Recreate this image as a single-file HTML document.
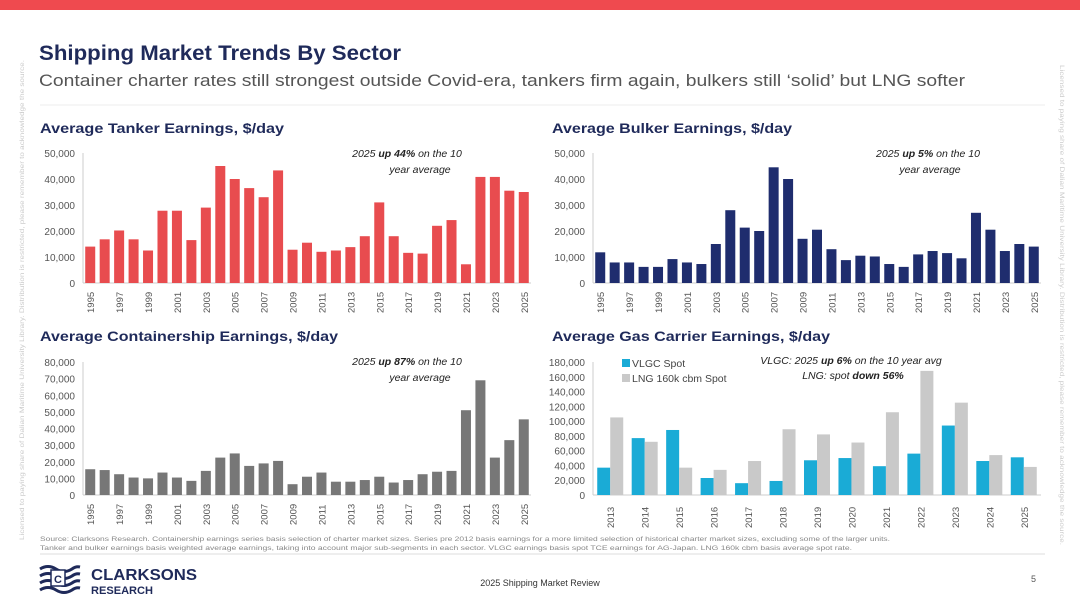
<!DOCTYPE html>
<html><head><meta charset="utf-8"><style>
body{margin:0;width:1080px;height:607px;overflow:hidden;background:#fff;font-family:"Liberation Sans",sans-serif}
svg{display:block}
</style></head><body>
<svg id="s" width="1080" height="607" viewBox="0 0 1080 607">
<rect x="0" y="0" width="1080" height="10" fill="#ef4a4f"/>
<text x="39" y="60" font-size="21" font-weight="bold" fill="#1f2a5a" textLength="362" lengthAdjust="spacingAndGlyphs">Shipping Market Trends By Sector</text>
<text x="39" y="86" font-size="17" fill="#555" textLength="926" lengthAdjust="spacingAndGlyphs">Container charter rates still strongest outside Covid-era, tankers firm again, bulkers still ‘solid’ but LNG softer</text>
<line x1="40" y1="105" x2="1045" y2="105" stroke="#eee"/>
<text x="40" y="133" font-size="14" font-weight="bold" fill="#1f2a5a" textLength="244" lengthAdjust="spacingAndGlyphs">Average Tanker Earnings, $/day</text>
<text x="552" y="133" font-size="14" font-weight="bold" fill="#1f2a5a" textLength="240" lengthAdjust="spacingAndGlyphs">Average Bulker Earnings, $/day</text>
<text x="40" y="341" font-size="14" font-weight="bold" fill="#1f2a5a" textLength="298" lengthAdjust="spacingAndGlyphs">Average Containership Earnings, $/day</text>
<text x="552" y="341" font-size="14" font-weight="bold" fill="#1f2a5a" textLength="278" lengthAdjust="spacingAndGlyphs">Average Gas Carrier Earnings, $/day</text>
<text x="407" y="157" font-size="10.5" font-style="italic" fill="#222" text-anchor="middle">2025 <tspan font-weight="bold">up 44%</tspan> on the 10</text>
<text x="420" y="173" font-size="10.5" font-style="italic" fill="#222" text-anchor="middle">year average</text>
<text x="928" y="157" font-size="10.5" font-style="italic" fill="#222" text-anchor="middle">2025 <tspan font-weight="bold">up 5%</tspan> on the 10</text>
<text x="930" y="173" font-size="10.5" font-style="italic" fill="#222" text-anchor="middle">year average</text>
<text x="407" y="365" font-size="10.5" font-style="italic" fill="#222" text-anchor="middle">2025 <tspan font-weight="bold">up 87%</tspan> on the 10</text>
<text x="420" y="381" font-size="10.5" font-style="italic" fill="#222" text-anchor="middle">year average</text>
<text x="851" y="364" font-size="10.5" font-style="italic" fill="#222" text-anchor="middle">VLGC: 2025 <tspan font-weight="bold">up 6%</tspan> on the 10 year avg</text>
<text x="853" y="379" font-size="10.5" font-style="italic" fill="#222" text-anchor="middle">LNG: spot <tspan font-weight="bold">down 56%</tspan></text>
<rect x="622" y="359" width="8" height="8" fill="#1aabd6"/>
<text x="632" y="367" font-size="10.5" fill="#444">VLGC Spot</text>
<rect x="622" y="374" width="8" height="8" fill="#c9c9c9"/>
<text x="632" y="382" font-size="10.5" fill="#444">LNG 160k cbm Spot</text>
<text x="40" y="541" font-size="6.5" fill="#888" textLength="850" lengthAdjust="spacingAndGlyphs">Source: Clarksons Research. Containership earnings series basis selection of charter market sizes. Series pre 2012 basis earnings for a more limited selection of historical charter market sizes, excluding some of the larger units.</text>
<text x="40" y="550" font-size="6.5" fill="#888" textLength="812" lengthAdjust="spacingAndGlyphs">Tanker and bulker earnings basis weighted average earnings, taking into account major sub-segments in each sector. VLGC earnings basis spot TCE earnings for AG-Japan. LNG 160k cbm basis average spot rate.</text>
<line x1="40" y1="554" x2="1045" y2="554" stroke="#ddd"/>
<g>
<path d="M40 569 q8 -5 16 0 q8 5 16 0 q4 -3 8 -2 M40 576 q8 -5 16 0 q8 5 16 0 q4 -3 8 -2 M40 583 q8 -5 16 0 q8 5 16 0 q4 -3 8 -2 M40 590 q8 -5 16 0 q8 5 16 0 q4 -3 8 -2" fill="none" stroke="#1f2a5a" stroke-width="3"/>
<rect x="51" y="570" width="14" height="16" fill="#fff" stroke="#1f2a5a" stroke-width="1.5"/>
<text x="54" y="583" font-size="11" font-weight="bold" fill="#1f2a5a">C</text>
<text x="91" y="580" font-size="16" font-weight="bold" fill="#1f2a5a" textLength="106" lengthAdjust="spacingAndGlyphs">CLARKSONS</text>
<text x="91" y="594" font-size="11" font-weight="bold" fill="#1f2a5a" textLength="62" lengthAdjust="spacingAndGlyphs">RESEARCH</text>
</g>
<text x="540" y="586" font-size="9" fill="#333" text-anchor="middle">2025 Shipping Market Review</text>
<text x="1031" y="582" font-size="9" fill="#555">5</text>
<text transform="translate(24,540) rotate(-90)" font-size="6.5" fill="#ccc" textLength="480" lengthAdjust="spacingAndGlyphs">Licensed to paying share of Dalian Maritime University Library. Distribution is restricted, please remember to acknowledge the source.</text>
<text transform="translate(1060,65) rotate(90)" font-size="6.5" fill="#ccc" textLength="480" lengthAdjust="spacingAndGlyphs">Licensed to paying share of Dalian Maritime University Library. Distribution is restricted, please remember to acknowledge the source.</text>
</svg>
<script>
const years = [];
for (let y = 1995; y <= 2025; y++) years.push(y);
const tankerValues = [14000,16800,20200,16800,12500,27800,27800,16500,29000,45000,40000,36500,33000,43300,12800,15500,12000,12500,13800,18000,31000,18000,11600,11300,22000,24200,7200,40800,40800,35500,35000];
const bulkerValues = [11800,7900,7900,6200,6200,9200,7900,7300,15000,28000,21300,20000,44500,40000,17000,20500,13000,8800,10500,10200,7300,6200,11000,12300,11500,9500,27000,20500,12300,15000,14000];
const containerValues = [15500,15000,12500,10500,10000,13500,10500,8500,14500,22500,25000,17500,19000,20500,6500,11000,13500,8000,8000,9000,11000,7500,9000,12500,14000,14500,51000,69000,22500,33000,45500];
const gasYears = [2013,2014,2015,2016,2017,2018,2019,2020,2021,2022,2023,2024,2025];
const vlgcValues = [37000,77000,88000,23000,16000,19000,47000,50000,39000,56000,94000,46000,51000];
const lngValues = [105000,72000,37000,34000,46000,89000,82000,71000,112000,168000,125000,54000,38000];
const tankerTicks = [0,10000,20000,30000,40000,50000];
const containerTicks = [0,10000,20000,30000,40000,50000,60000,70000,80000];
const gasTicks = [0,20000,40000,60000,80000,100000,120000,140000,160000,180000];

const NS = 'http://www.w3.org/2000/svg';
const svg = document.getElementById('s');
function mk(tag, attrs, parent) {
  const e = document.createElementNS(NS, tag);
  for (const k in attrs) e.setAttribute(k, attrs[k]);
  (parent || svg).appendChild(e);
  return e;
}
function fmt(v){return v.toLocaleString('en-US');}

function axes(name, x0, x1, y0, y1, max, ticks) {
  const g = mk('g', {});
  
  
  const ys = v => y0 - (v / max) * (y0 - y1);
  mk('line', {x1: x0, y1: y1, x2: x0, y2: y0, stroke: '#ccc'}, g);
  mk('line', {x1: x0, y1: y0, x2: x1, y2: y0, stroke: '#ccc'}, g);
  ticks.forEach(t => {
    const tx = mk('text', {x: x0 - 8, y: ys(t) + 4, 'font-size': 10, fill: '#555', 'text-anchor': 'end'}, g);
    tx.textContent = fmt(t);
    
    
  });
  return ys;
}

function yearChart(name, vals, color, x0, x1, y0, y1, max, ticks) {
  const ys = axes(name, x0, x1, y0, y1, max, ticks);
  const step = (x1 - x0) / years.length;
  const xs = i => x0 + step * (i + 0.5);
  vals.forEach((v, i) => {
    const r = mk('rect', {x: xs(i) - 5, y: ys(v), width: 10, height: y0 - ys(v), fill: color});
    
    
  });
  years.forEach((yr, i) => {
    if (i % 2) return;
    const t = mk('text', {transform: `translate(${xs(i) + 4},${y0 + 30}) rotate(-90)`, 'font-size': 9.5, fill: '#555'});
    t.textContent = yr;
    
    
  });
}

yearChart('tanker', tankerValues, '#e84c4f', 83, 531, 283, 153, 50000, tankerTicks);
yearChart('bulker', bulkerValues, '#1f2d6e', 593, 1041, 283, 153, 50000, tankerTicks);
yearChart('container', containerValues, '#777777', 83, 531, 495, 362, 80000, containerTicks);

(function(){
  const x0 = 593, x1 = 1041, y0 = 495, y1 = 362;
  const ys = axes('gas', x0, x1, y0, y1, 180000, gasTicks);
  const step = (x1 - x0) / gasYears.length;
  const xs = i => x0 + step * (i + 0.5);
  gasYears.forEach((yr, i) => {
    const a = mk('rect', {x: xs(i) - 13, y: ys(vlgcValues[i]), width: 13, height: y0 - ys(vlgcValues[i]), fill: '#1aabd6'});
    
    
    const b = mk('rect', {x: xs(i), y: ys(lngValues[i]), width: 13, height: y0 - ys(lngValues[i]), fill: '#c9c9c9'});
    
    
    const t = mk('text', {transform: `translate(${xs(i) + 4},${y0 + 33}) rotate(-90)`, 'font-size': 9.5, fill: '#555'});
    t.textContent = yr;
    
    
  });
})();
</script>
</body></html>
